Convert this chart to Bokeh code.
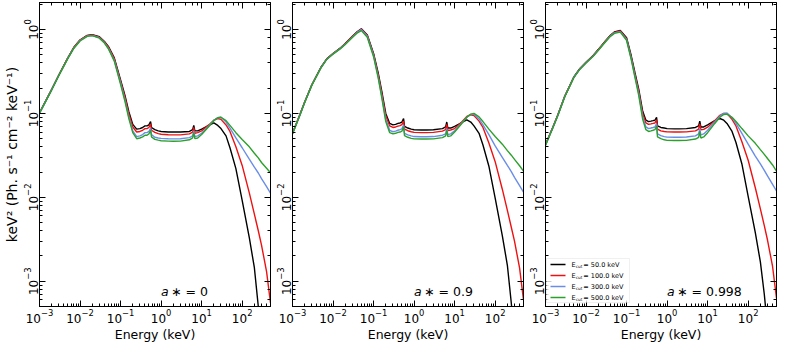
from bokeh.plotting import figure
from bokeh.layouts import row
from bokeh.models import Range1d, LogAxis, Label, Arrow, BoxAnnotation
from bokeh.embed import file_html
from bokeh.resources import INLINE

# ---------------- data ----------------
energy = [0.001, 0.0015, 0.002, 0.003, 0.005, 0.007, 0.01, 0.015, 0.02, 0.03, 0.04, 0.05, 0.07,
          0.1, 0.13, 0.16, 0.2, 0.25, 0.3, 0.35, 0.4, 0.45, 0.5, 0.55, 0.58, 0.7, 0.85,
          1.0, 1.5, 2.0, 3.0, 5.0, 6.0, 6.4, 6.8, 8.0,
          10, 15, 20, 25, 30, 40, 50, 70,
          100, 150, 200, 250, 300, 400, 500]

ecut_labels = ["50.0", "100.0", "300.0", "500.0"]
spin_labels = ["0", "0.9", "0.998"]

# a* = 0
a0_e50 = [0.102, 0.148, 0.194, 0.287, 0.46, 0.61, 0.75, 0.85, 0.87, 0.82, 0.72, 0.63, 0.46,
          0.25, 0.16, 0.105, 0.074, 0.065, 0.066, 0.068, 0.071, 0.071, 0.073, 0.080, 0.068, 0.064, 0.062,
          0.061, 0.060, 0.060, 0.060, 0.061, 0.064, 0.072, 0.062, 0.062,
          0.065, 0.072, 0.077, 0.072, 0.066, 0.054, 0.039, 0.022,
          0.0092, 0.0033, 0.00145, 0.0005, 0.00018, 0.00002, 0.000002]
a0_e100 = [0.102, 0.148, 0.194, 0.287, 0.46, 0.61, 0.75, 0.845, 0.86, 0.81, 0.71, 0.62, 0.45,
           0.243, 0.153, 0.099, 0.069, 0.060, 0.061, 0.063, 0.066, 0.066, 0.068, 0.075, 0.063, 0.0595, 0.0575,
           0.0565, 0.0557, 0.0555, 0.0556, 0.057, 0.060, 0.068, 0.058, 0.059,
           0.062, 0.073, 0.083, 0.087, 0.085, 0.073, 0.061, 0.040,
           0.0240, 0.0113, 0.0063, 0.0040, 0.0027, 0.0013, 0.00055]
a0_e300 = [0.101, 0.147, 0.192, 0.285, 0.455, 0.60, 0.74, 0.835, 0.85, 0.80, 0.70, 0.60, 0.43,
           0.232, 0.142, 0.091, 0.062, 0.053, 0.054, 0.056, 0.059, 0.059, 0.061, 0.067, 0.056, 0.052, 0.051,
           0.0505, 0.050, 0.0498, 0.050, 0.0515, 0.054, 0.062, 0.053, 0.054,
           0.058, 0.071, 0.083, 0.089, 0.090, 0.079, 0.067, 0.051,
           0.039, 0.0285, 0.0229, 0.0195, 0.0167, 0.0134, 0.0112]
a0_e500 = [0.100, 0.146, 0.190, 0.282, 0.45, 0.595, 0.73, 0.83, 0.845, 0.79, 0.69, 0.59, 0.42,
           0.222, 0.136, 0.087, 0.059, 0.050, 0.051, 0.0525, 0.055, 0.055, 0.057, 0.063, 0.0525, 0.049, 0.048,
           0.0473, 0.0468, 0.0466, 0.0468, 0.0485, 0.051, 0.059, 0.050, 0.051,
           0.056, 0.070, 0.082, 0.089, 0.090, 0.082, 0.072, 0.059,
           0.049, 0.040, 0.0335, 0.0295, 0.026, 0.0222, 0.0196]

# a* = 0.9
a09_e50 = [0.058, 0.095, 0.137, 0.220, 0.353, 0.447, 0.518, 0.60, 0.68, 0.83, 0.946, 1.02, 0.86,
           0.52, 0.305, 0.182, 0.10, 0.076, 0.073, 0.074, 0.076, 0.077, 0.079, 0.087, 0.070, 0.067, 0.065,
           0.064, 0.0635, 0.0635, 0.064, 0.066, 0.069, 0.079, 0.067, 0.067,
           0.070, 0.078, 0.084, 0.079, 0.071, 0.058, 0.042, 0.0235,
           0.0098, 0.0035, 0.00155, 0.00055, 0.0002, 0.000022, 0.000002]
a09_e100 = [0.058, 0.095, 0.137, 0.220, 0.352, 0.446, 0.516, 0.598, 0.677, 0.825, 0.94, 1.01, 0.85,
            0.505, 0.29, 0.172, 0.094, 0.071, 0.068, 0.069, 0.0705, 0.0715, 0.0735, 0.081, 0.065, 0.0622, 0.0605,
            0.0595, 0.059, 0.059, 0.0595, 0.0615, 0.064, 0.074, 0.0625, 0.0635,
            0.066, 0.079, 0.092, 0.0965, 0.0945, 0.081, 0.068, 0.0444,
            0.0266, 0.0125, 0.0070, 0.0044, 0.0030, 0.00144, 0.0006]
a09_e300 = [0.0575, 0.094, 0.136, 0.218, 0.35, 0.443, 0.513, 0.593, 0.67, 0.815, 0.93, 0.995, 0.83,
            0.49, 0.275, 0.160, 0.085, 0.063, 0.0605, 0.0615, 0.063, 0.064, 0.0655, 0.073, 0.058, 0.0555, 0.054,
            0.053, 0.0527, 0.0527, 0.053, 0.055, 0.057, 0.066, 0.056, 0.057,
            0.062, 0.077, 0.090, 0.097, 0.098, 0.086, 0.073, 0.056,
            0.041, 0.030, 0.024, 0.0203, 0.0173, 0.0138, 0.0115]
a09_e500 = [0.057, 0.093, 0.135, 0.216, 0.347, 0.44, 0.51, 0.588, 0.665, 0.805, 0.915, 0.97, 0.81,
            0.475, 0.265, 0.152, 0.080, 0.059, 0.057, 0.058, 0.0595, 0.060, 0.0615, 0.069, 0.0545, 0.052, 0.0505,
            0.0498, 0.0495, 0.0495, 0.0498, 0.0515, 0.054, 0.063, 0.053, 0.054,
            0.060, 0.076, 0.090, 0.098, 0.100, 0.091, 0.080, 0.065,
            0.053, 0.043, 0.036, 0.0318, 0.0283, 0.0238, 0.0205]

# a* = 0.998
a0998_e50 = [0.0426, 0.0675, 0.095, 0.161, 0.272, 0.341, 0.407, 0.49, 0.577, 0.73, 0.855, 0.935, 0.975,
             0.80, 0.49, 0.31, 0.194, 0.106, 0.083, 0.080, 0.081, 0.082, 0.083, 0.090, 0.071, 0.068, 0.067,
             0.066, 0.0655, 0.0655, 0.066, 0.068, 0.071, 0.081, 0.069, 0.069,
             0.073, 0.082, 0.087, 0.083, 0.076, 0.061, 0.045, 0.025,
             0.0103, 0.0038, 0.0017, 0.0007, 0.00028, 0.00003, 0.000003]
a0998_e100 = [0.0426, 0.0675, 0.095, 0.161, 0.271, 0.34, 0.405, 0.488, 0.574, 0.725, 0.848, 0.925, 0.962,
              0.78, 0.47, 0.295, 0.183, 0.099, 0.077, 0.074, 0.075, 0.076, 0.077, 0.084, 0.065, 0.062, 0.061,
              0.0603, 0.060, 0.060, 0.0603, 0.062, 0.065, 0.075, 0.064, 0.0645,
              0.0685, 0.082, 0.095, 0.100, 0.100, 0.085, 0.071, 0.046,
              0.0277, 0.013, 0.0073, 0.0046, 0.0031, 0.0015, 0.00063]
a0998_e300 = [0.042, 0.067, 0.094, 0.16, 0.27, 0.338, 0.402, 0.484, 0.569, 0.718, 0.84, 0.912, 0.945,
              0.76, 0.455, 0.282, 0.172, 0.091, 0.069, 0.066, 0.067, 0.068, 0.069, 0.076, 0.057, 0.0545, 0.053,
              0.0522, 0.052, 0.052, 0.0523, 0.054, 0.057, 0.066, 0.0555, 0.057,
              0.063, 0.079, 0.093, 0.100, 0.101, 0.089, 0.076, 0.058,
              0.043, 0.031, 0.025, 0.021, 0.018, 0.0143, 0.0119]
a0998_e500 = [0.0415, 0.066, 0.093, 0.158, 0.267, 0.335, 0.398, 0.479, 0.563, 0.71, 0.83, 0.90, 0.93,
              0.745, 0.44, 0.272, 0.163, 0.085, 0.064, 0.061, 0.062, 0.063, 0.064, 0.071, 0.0525, 0.050, 0.0485,
              0.0478, 0.0475, 0.0475, 0.0478, 0.0495, 0.052, 0.061, 0.051, 0.0525,
              0.059, 0.076, 0.090, 0.097, 0.098, 0.090, 0.080, 0.066,
              0.054, 0.044, 0.037, 0.0325, 0.029, 0.0243, 0.0205]

panels = [
    [a0_e50, a0_e100, a0_e300, a0_e500],
    [a09_e50, a09_e100, a09_e300, a09_e500],
    [a0998_e50, a0998_e100, a0998_e300, a0998_e500],
]

# ---------------- styling ----------------
colors = ["black", "#ee1111", "#6a8ee8", "#2ca02c"]
FONT = "DejaVu Sans"
FW, FH = 231, 304


def style_axis(ax, show_labels=True):
    ax.major_tick_in = 6
    ax.major_tick_out = 0
    ax.minor_tick_in = 3
    ax.minor_tick_out = 0
    ax.axis_line_color = "black"
    ax.major_tick_line_color = "black"
    ax.minor_tick_line_color = "black"
    ax.major_label_text_font = FONT
    ax.axis_label_text_font = FONT
    ax.axis_label_text_font_style = "normal"
    ax.axis_label_text_color = "black"
    if show_labels:
        ax.major_label_text_font_size = "12px"
        ax.major_label_text_color = "black"
        ax.major_label_standoff = 2
    else:
        ax.major_label_text_font_size = "1px"
        ax.major_label_text_alpha = 0
        ax.major_label_standoff = 0


def make_panel(idx):
    left = 31 if idx == 0 else 20
    right = 3 if idx == 2 else 2
    p = figure(x_axis_type="log", y_axis_type="log",
               x_range=Range1d(1e-3, 500), y_range=Range1d(5e-4, 2.1),
               frame_width=FW, frame_height=FH,
               min_border_left=left, min_border_right=right,
               min_border_top=2, min_border_bottom=0,
               output_backend="svg", toolbar_location=None)
    p.xgrid.visible = False
    p.ygrid.visible = False
    p.outline_line_color = "black"
    p.background_fill_color = "white"
    p.border_fill_color = "white"

    xa = p.xaxis[0]
    ya = p.yaxis[0]
    style_axis(xa)
    style_axis(ya)
    xa.axis_label = "Energy (keV)"
    xa.axis_label_text_font_size = "12.5px"
    xa.axis_label_standoff = 1
    ya.major_label_orientation = "vertical"
    if idx == 0:
        ya.axis_label = "keV\u00b2 (Ph. s\u207b\u00b9 cm\u207b\u00b2 keV\u207b\u00b9)"
        ya.axis_label_text_font_size = "14px"
        ya.axis_label_standoff = 1

    for side in ("above", "right"):
        ax = LogAxis()
        style_axis(ax, show_labels=False)
        p.add_layout(ax, side)

    for ys, c in zip(panels[idx], colors):
        p.line(energy, ys, line_color=c, line_width=1.4)

    # spin annotation
    p.add_layout(Label(x=1.0, y=7.6e-4, text="a", text_font=FONT, text_font_style="italic",
                       text_font_size="12.5px", text_baseline="alphabetic", text_color="black"))
    p.add_layout(Label(x=1.0, y=7.6e-4, x_offset=10, text="\u2217 = " + spin_labels[idx],
                       text_font=FONT, text_font_size="12.5px", text_baseline="alphabetic",
                       text_color="black"))
    return p


p1 = make_panel(0)
p2 = make_panel(1)
p3 = make_panel(2)

# manual legend (with subscript "cut") in the third panel
p3.add_layout(BoxAnnotation(left=1, right=84, bottom=4, top=48,
                            left_units="screen", right_units="screen",
                            bottom_units="screen", top_units="screen",
                            fill_color="white", fill_alpha=0.8,
                            line_color="#cccccc", line_width=1))
for i, (lab, c) in enumerate(zip(ecut_labels, colors)):
    yy = 42 - 11 * i
    p3.add_layout(Arrow(end=None, x_start=5, y_start=yy, x_end=20, y_end=yy,
                        start_units="screen", end_units="screen",
                        line_color=c, line_width=1.4))
    p3.add_layout(Label(x=26, y=yy, x_units="screen", y_units="screen", text="E",
                        text_font=FONT, text_font_size="6.5px", text_baseline="middle",
                        text_color="black"))
    p3.add_layout(Label(x=30.2, y=yy - 2, x_units="screen", y_units="screen", text="cut",
                        text_font=FONT, text_font_size="4.2px", text_baseline="middle",
                        text_color="black"))
    p3.add_layout(Label(x=37.8, y=yy, x_units="screen", y_units="screen",
                        text="= " + lab + " keV",
                        text_font=FONT, text_font_size="6.5px", text_baseline="middle",
                        text_color="black"))

layout = row(p1, p2, p3, spacing=0)
open("out.html", "w").write(file_html(layout, INLINE))
